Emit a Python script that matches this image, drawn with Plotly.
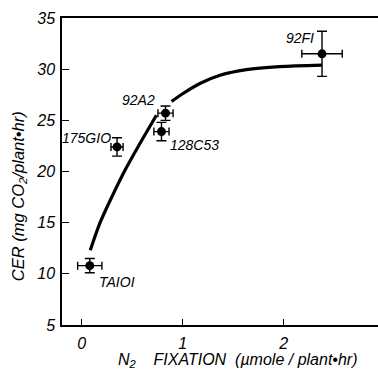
import plotly.graph_objects as go

# Cultivar data (N2 fixation vs CER)
names = ["TA101", "175G10", "92A2", "128C53", "92F1"]
fix = [0.08, 0.35, 0.83, 0.79, 2.38]
fix_err = [0.12, 0.06, 0.075, 0.075, 0.20]
cer = [10.8, 22.4, 25.7, 23.9, 31.5]
cer_err = [0.7, 0.9, 0.7, 0.9, 2.2]

# Fitted curve (gap near 92A2)
curve_x = [0.085, 0.18, 0.30, 0.43, 0.56, 0.74, None, 0.89, 1.0, 1.17, 1.37, 1.63, 1.96, 2.38]
curve_y = [12.3, 14.95, 17.55, 20.15, 22.45, 25.5, None, 26.85, 27.6, 28.6, 29.4, 29.95, 30.25, 30.4]

# Label positions (data coords) and display text
label_text = ["TAIOI", "175GIO", "92A2", "128C53", "92FI"]
label_x = [0.35, 0.05, 0.56, 1.12, 2.16]
label_y = [9.2, 23.3, 27.0, 22.6, 33.0]

x_ticks = [0, 1, 2]
y_ticks = [5, 10, 15, 20, 25, 30, 35]

FONT = "Liberation Sans"

fig = go.Figure()
fig.add_trace(go.Scatter(x=curve_x, y=curve_y, mode="lines",
                         line=dict(color="black", width=3.2, shape="spline", smoothing=0.8),
                         connectgaps=False, hoverinfo="skip", showlegend=False))
fig.add_trace(go.Scatter(
    x=fix, y=cer, mode="markers",
    marker=dict(color="black", size=9),
    error_x=dict(type="data", array=fix_err, color="black", thickness=1.4, width=4),
    error_y=dict(type="data", array=cer_err, color="black", thickness=1.4, width=5),
    showlegend=False))

for t, x, y in zip(label_text, label_x, label_y):
    fig.add_annotation(x=x, y=y, text=t, showarrow=False, xanchor="center", yanchor="middle",
                       font=dict(family=FONT, size=14, color="black", style="italic"))

fig.add_annotation(xref="paper", yref="paper", x=0.553, y=-0.116,
                   text="N<sub>2</sub>    FIXATION  (µmole / plant•hr)",
                   showarrow=False, xanchor="center", yanchor="middle",
                   font=dict(family=FONT, size=16, color="black", style="italic"))
fig.add_annotation(xref="paper", yref="paper", x=-0.135, y=0.42,
                   text="CER (mg CO<sub>2</sub>/plant•hr)",
                   showarrow=False, xanchor="center", yanchor="middle", textangle=-90,
                   font=dict(family=FONT, size=16.5, color="black", style="italic"))

# The plot frame runs off the picture's right edge (as in the cropped original):
# the figure is 2px wider than the window and the overflow is hidden.
fig.update_layout(
    width=380, height=369,
    margin=dict(l=62, r=0, t=18, b=44),
    paper_bgcolor="white", plot_bgcolor="white",
    xaxis=dict(range=[-0.195, 2.954], tickvals=x_ticks, ticks="inside", ticklen=6, tickwidth=1.2,
               tickcolor="black", showline=True, linecolor="black", linewidth=1.5, mirror=True,
               showgrid=False, zeroline=False, ticklabelstandoff=3,
               tickfont=dict(family=FONT, size=16, color="black", style="italic")),
    yaxis=dict(range=[5, 35], tickvals=y_ticks, ticks="inside", ticklen=7, tickwidth=1.2,
               tickcolor="black", showline=True, linecolor="black", linewidth=1.5, mirror=False,
               showgrid=False, zeroline=False, ticklabelstandoff=2,
               tickfont=dict(family=FONT, size=16, color="black", style="italic")),
)

fig.write_html("out.html", config={"displayModeBar": False, "responsive": False},
               post_script="document.documentElement.style.overflow='hidden';document.body.style.overflow='hidden';document.body.style.margin='0';")
